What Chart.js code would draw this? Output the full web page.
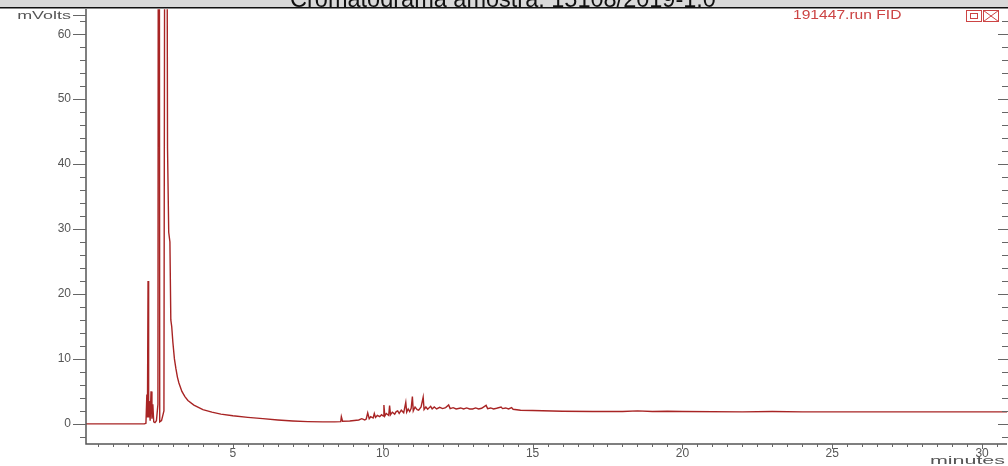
<!DOCTYPE html>
<html>
<head>
<meta charset="utf-8">
<script src="https://cdn.jsdelivr.net/npm/chart.js@4.4.1/dist/chart.umd.min.js"></script>
<style>
  html, body { margin: 0; padding: 0; background: #ffffff; }
  #wrap { width: 1008px; height: 466px; position: relative; }
</style>
</head>
<body>
<div id="wrap"><canvas id="c" width="1008" height="466"></canvas></div>
<script>
// ---- data ----
const chartTitle = "Cromatograma amostra: 15108/2019-1.0";
const traceName = "191447.run FID";
const yUnit = "mVolts";
const xUnit = "minutes";
const xTickLabels = [5, 10, 15, 20, 25, 30];
const yTickLabels = [0, 10, 20, 30, 40, 50, 60];

const times = [
  0.1, 2.05, 2.1, 2.13, 2.15, 2.17, 2.19, 2.21, 2.24, 2.27, 2.3, 2.33, 2.36, 2.4, 2.45, 2.5,
  2.53, 2.56, 2.62, 2.7, 2.76, 2.82, 2.86, 2.9, 2.93, 2.96, 3.0, 3.05, 3.1, 3.15, 3.2, 3.3,
  3.4, 3.5, 3.7, 4.0, 4.3, 4.6, 5.0, 5.5, 6.0, 6.5, 7.0, 7.5, 8.0, 8.4, 8.6, 8.62, 8.66, 8.9,
  9.2, 9.3, 9.4, 9.45, 9.5, 9.55, 9.6, 9.68, 9.72, 9.76, 9.82, 9.9, 9.96, 10.02, 10.04, 10.07,
  10.12, 10.2, 10.23, 10.26, 10.32, 10.4, 10.45, 10.5, 10.55, 10.62, 10.7, 10.77, 10.8, 10.85,
  10.9, 10.95, 10.99, 11.02, 11.08, 11.15, 11.2, 11.28, 11.35, 11.38, 11.44, 11.5, 11.6, 11.65,
  11.72, 11.8, 11.9, 12.0, 12.1, 12.2, 12.25, 12.35, 12.45, 12.6, 12.7, 12.8, 12.9, 13.0,
  13.1, 13.2, 13.3, 13.45, 13.5, 13.6, 13.7, 13.8, 13.95, 14.0, 14.1, 14.2, 14.3, 14.35, 14.6,
  15.0, 16.0, 17.0, 18.0, 18.5, 19.0, 19.5, 20.0, 22.0, 23.0, 24.0, 26.0, 28.0, 30.83
];
const signal = [
  0, 0, 0.1, 4.5, 1.0, 22, 1.0, 3.5, 0.5, 5.0, 0.8, 3.0, 0.3, 0.2, 0.5, 3.0,
  200, 0.3, 0.5, 2.0, 180, 42.5, 29.5, 28, 16, 15, 12.5, 10, 8.5, 7.2, 6.3, 5.0,
  4.2, 3.6, 2.9, 2.2, 1.8, 1.5, 1.25, 1.0, 0.8, 0.6, 0.45, 0.35, 0.3, 0.3, 0.35, 1.1, 0.4, 0.45,
  0.6, 0.8, 0.6, 0.75, 1.7, 0.8, 1.1, 0.9, 1.6, 1.0, 1.3, 1.1, 1.4, 1.2, 2.9, 1.2,
  1.6, 1.3, 2.8, 1.4, 1.8, 1.5, 1.9, 2.0, 1.6, 2.1, 1.7, 3.3, 1.8, 2.3,
  1.9, 2.4, 4.2, 2.0, 2.6, 2.2, 2.1, 2.6, 4.1, 2.2, 2.6, 2.25, 2.7, 2.3,
  2.6, 2.3, 2.55, 2.35, 2.5, 2.9, 2.35, 2.5, 2.3, 2.45, 2.3, 2.45, 2.3, 2.3,
  2.45, 2.3, 2.4, 2.85, 2.35, 2.45, 2.3, 2.4, 2.6, 2.35, 2.45, 2.3, 2.5, 2.25, 2.1,
  2.05, 1.95, 1.9, 1.9, 2.0, 1.9, 1.95, 1.9, 1.85, 1.9, 1.85, 1.85, 1.85, 1.85
];

const points = times.map((t, i) => ({ x: t, y: signal[i] }));

const LEFT = 86, BOTTOM_H = 22, TOP = 9;

const decor = {
  id: 'decor',
  afterDraw(chart) {
    const ctx = chart.ctx;
    const ca = chart.chartArea;
    const xs = chart.scales.x, ys = chart.scales.y;
    ctx.save();
    // header bar
    ctx.fillStyle = '#d9d9d9';
    ctx.fillRect(0, 0, chart.width, 7);
    ctx.fillStyle = '#111';
    ctx.fillRect(0, 7, chart.width, 1.5);
    ctx.save();
    ctx.beginPath(); ctx.rect(0, 0, chart.width, 7); ctx.clip();
    ctx.fillStyle = '#111';
    ctx.font = '23.5px "Liberation Sans", Arial, sans-serif';
    ctx.textAlign = 'center';
    ctx.textBaseline = 'alphabetic';
    ctx.fillText(chartTitle, 503, 6.5);
    ctx.restore();

    // axis lines
    ctx.strokeStyle = '#555';
    ctx.lineWidth = 1.5;
    ctx.beginPath();
    ctx.moveTo(ca.left, TOP); ctx.lineTo(ca.left, ca.bottom);
    ctx.lineTo(ca.right, ca.bottom);
    ctx.stroke();

    // y ticks (left and right)
    ctx.lineWidth = 1;
    ctx.strokeStyle = '#666';
    for (let v = -2; v <= 63; v += 2) {
      const py = Math.round(ys.getPixelForValue(v)) + 0.5;
      const major = v % 10 === 0;
      ctx.beginPath();
      ctx.moveTo(ca.left - (major ? 13 : 6), py); ctx.lineTo(ca.left, py);
      ctx.moveTo(ca.right + 1, py); ctx.lineTo(ca.right - (major ? 9 : 5), py);
      ctx.stroke();
    }
    // mVolts tick
    const pyTop = Math.round(ys.getPixelForValue(63.0)) + 0.5;
    ctx.beginPath(); ctx.moveTo(ca.left - 13, pyTop); ctx.lineTo(ca.left, pyTop); ctx.stroke();

    // x ticks
    for (let k = 1; k <= 61; k++) {
      const v = k * 0.5;
      const px = Math.round(xs.getPixelForValue(v)) + 0.5;
      const major = k % 10 === 0;
      ctx.beginPath();
      ctx.moveTo(px, ca.bottom); ctx.lineTo(px, ca.bottom + (major ? 5 : 3));
      ctx.stroke();
    }

    // unit labels
    ctx.fillStyle = '#555';
    ctx.font = '13px "Liberation Sans", Arial, sans-serif';
    ctx.textAlign = 'right';
    ctx.textBaseline = 'middle';
    ctx.save();
    ctx.translate(ca.left - 15, pyTop);
    ctx.scale(1.38, 0.9);
    ctx.fillText(yUnit, 0, 0);
    ctx.restore();
    ctx.save();
    ctx.translate(1005, 461);
    ctx.scale(1.65, 0.9);
    ctx.fillText(xUnit, 0, 0);
    ctx.restore();

    // trace legend
    ctx.fillStyle = '#cc4444';
    ctx.font = '12px "Liberation Sans", Arial, sans-serif';
    ctx.textAlign = 'left';
    ctx.save();
    ctx.translate(793, 15.5);
    ctx.scale(1.3, 1);
    ctx.fillText(traceName, 0, 0);
    ctx.restore();
    ctx.strokeStyle = '#cc4444';
    ctx.lineWidth = 1;
    ctx.strokeRect(966.5, 10.5, 15, 11);
    ctx.strokeRect(970.5, 13.5, 7, 5);
    ctx.strokeRect(983.5, 10.5, 15, 11);
    ctx.beginPath();
    ctx.moveTo(983.5, 10.5); ctx.lineTo(998.5, 21.5);
    ctx.moveTo(998.5, 10.5); ctx.lineTo(983.5, 21.5);
    ctx.stroke();
    ctx.restore();
  }
};

new Chart(document.getElementById('c'), {
  type: 'line',
  data: {
    datasets: [{
      data: points,
      borderColor: '#a82424',
      borderWidth: 1.4,
      pointRadius: 0,
      tension: 0,
      fill: false
    }]
  },
  options: {
    responsive: false,
    animation: false,
    events: [],
    layout: { autoPadding: false, padding: { top: TOP, right: 1, left: 0, bottom: 0 } },
    plugins: { legend: { display: false }, title: { display: false }, tooltip: { enabled: false } },
    scales: {
      x: {
        type: 'linear',
        min: 0.1,
        max: 30.83,
        afterFit(s) { s.height = BOTTOM_H; },
        afterBuildTicks(s) { s.ticks = xTickLabels.map(v => ({ value: v })); },
        grid: { display: true, drawOnChartArea: false, drawTicks: true, tickLength: 1, tickColor: 'rgba(0,0,0,0)' },
        border: { display: false },
        ticks: {
          autoSkip: false,
          maxRotation: 0,
          padding: 1,
          color: '#555',
          font: { family: '"Liberation Sans", Arial, sans-serif', size: 12 }
        }
      },
      y: {
        type: 'linear',
        min: -3.1,
        max: 63.85,
        afterFit(s) { s.width = LEFT; },
        afterBuildTicks(s) { s.ticks = yTickLabels.map(v => ({ value: v })); },
        grid: { display: true, drawOnChartArea: false, drawTicks: true, tickLength: 13, tickColor: 'rgba(0,0,0,0)' },
        border: { display: false },
        ticks: {
          autoSkip: false,
          padding: 2,
          color: '#555',
          font: { family: '"Liberation Sans", Arial, sans-serif', size: 12 }
        }
      }
    }
  },
  plugins: [decor]
});
</script>
</body>
</html>
